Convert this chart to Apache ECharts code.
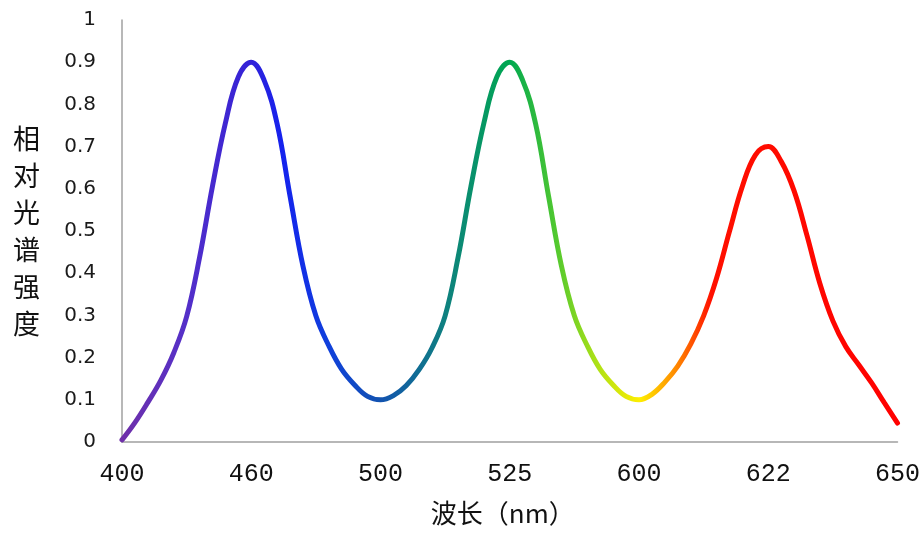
<!DOCTYPE html>
<html>
<head>
<meta charset="utf-8">
<script src="https://cdn.jsdelivr.net/npm/echarts@6/dist/echarts.min.js"></script>
<style>
html,body{margin:0;padding:0;background:#fff;}
#chart{width:923px;height:535px;}
</style>
</head>
<body>
<div id="chart"></div>
<script>
// Tick labels of the (evenly spaced) wavelength axis
var xTickLabels = ['400', '460', '500', '525', '600', '622', '650'];
// Sample positions along the axis, in tick-index units (0 = 400 ... 6 = 650), every 0.1
var samplePos = [
  0.0, 0.1, 0.2, 0.3, 0.4, 0.5, 0.6, 0.7, 0.8, 0.9,
  1.0, 1.1, 1.2, 1.3, 1.4, 1.5, 1.6, 1.7, 1.8, 1.9,
  2.0, 2.1, 2.2, 2.3, 2.4, 2.5, 2.6, 2.7, 2.8, 2.9,
  3.0, 3.1, 3.2, 3.3, 3.4, 3.5, 3.6, 3.7, 3.8, 3.9,
  4.0, 4.1, 4.2, 4.3, 4.4, 4.5, 4.6, 4.7, 4.8, 4.9,
  5.0, 5.1, 5.2, 5.3, 5.4, 5.5, 5.6, 5.7, 5.8, 5.9,
  6.0
];
// Relative spectral intensity read at each sample position
var intensity = [
  0.005, 0.046, 0.094, 0.146, 0.211, 0.297, 0.437, 0.606, 0.756, 0.865,
  0.9, 0.857, 0.754, 0.583, 0.417, 0.299, 0.228, 0.172, 0.135, 0.108,
  0.1, 0.11, 0.134, 0.172, 0.224, 0.299, 0.437, 0.606, 0.756, 0.865,
  0.9, 0.857, 0.754, 0.583, 0.417, 0.299, 0.228, 0.172, 0.135, 0.108,
  0.1, 0.113, 0.142, 0.18, 0.232, 0.299, 0.388, 0.499, 0.606, 0.68,
  0.7, 0.665, 0.595, 0.489, 0.375, 0.287, 0.226, 0.183, 0.14, 0.092,
  0.045
];
// Colour stops along the curve (position in tick-index units)
var colorStopPos = [0, 0.5, 1.0, 1.25, 1.6, 2.0, 2.5, 3.0, 3.35, 3.65, 4.0, 4.3, 4.55, 6.0];
var colorStopCol = ['#7030a8', '#5530c8', '#3322d8', '#1522ee', '#1040dc', '#1252b0', '#0f8080', '#00a850', '#50c830', '#a8e018', '#ffee00', '#ff8000', '#ff1000', '#ff0000'];

var seriesData = samplePos.map(function (p, i) { return [p, intensity[i]]; });
var stops = colorStopPos.map(function (p, i) { return { offset: p / 6, color: colorStopCol[i] }; });

var chart = echarts.init(document.getElementById('chart'));
chart.setOption({
  animation: false,
  backgroundColor: '#ffffff',
  grid: { left: 122, right: 21, top: 20, bottom: 93, containLabel: false },
  xAxis: {
    type: 'value',
    min: 0, max: 6, interval: 1,
    name: '波长（nm）',
    nameLocation: 'middle',
    nameGap: 58,
    nameTextStyle: { fontFamily: 'Noto Sans CJK SC', fontSize: 26, color: '#111', padding: [0, 14, 0, 0] },
    axisLine: { show: true, lineStyle: { color: '#a0a0a0', width: 1.5 } },
    axisTick: { show: false },
    splitLine: { show: false },
    axisLabel: {
      margin: 20,
      fontFamily: 'Liberation Mono',
      fontSize: 25,
      color: '#111',
      formatter: function (v) { return xTickLabels[Math.round(v)]; }
    }
  },
  yAxis: {
    type: 'value',
    min: 0, max: 1, interval: 0.1,
    name: '相\n对\n光\n谱\n强\n度',
    nameLocation: 'middle',
    nameRotate: 0,
    nameGap: 82,
    nameTextStyle: { fontFamily: 'Noto Sans CJK SC', fontSize: 27, lineHeight: 37, color: '#111' },
    axisLine: { show: true, lineStyle: { color: '#a0a0a0', width: 1.5 } },
    axisTick: { show: false },
    splitLine: { show: false },
    axisLabel: {
      margin: 26,
      fontFamily: 'DejaVu Sans',
      fontSize: 20,
      color: '#1a1a1a',
      formatter: function (v) { return String(Math.round(v * 10) / 10); }
    }
  },
  series: [{
    type: 'line',
    data: seriesData,
    smooth: 0.4,
    showSymbol: false,
    symbol: 'none',
    lineStyle: {
      width: 5,
      cap: 'round',
      color: { type: 'linear', x: 0, y: 0, x2: 1, y2: 0, colorStops: stops }
    }
  }]
});
</script>
</body>
</html>
